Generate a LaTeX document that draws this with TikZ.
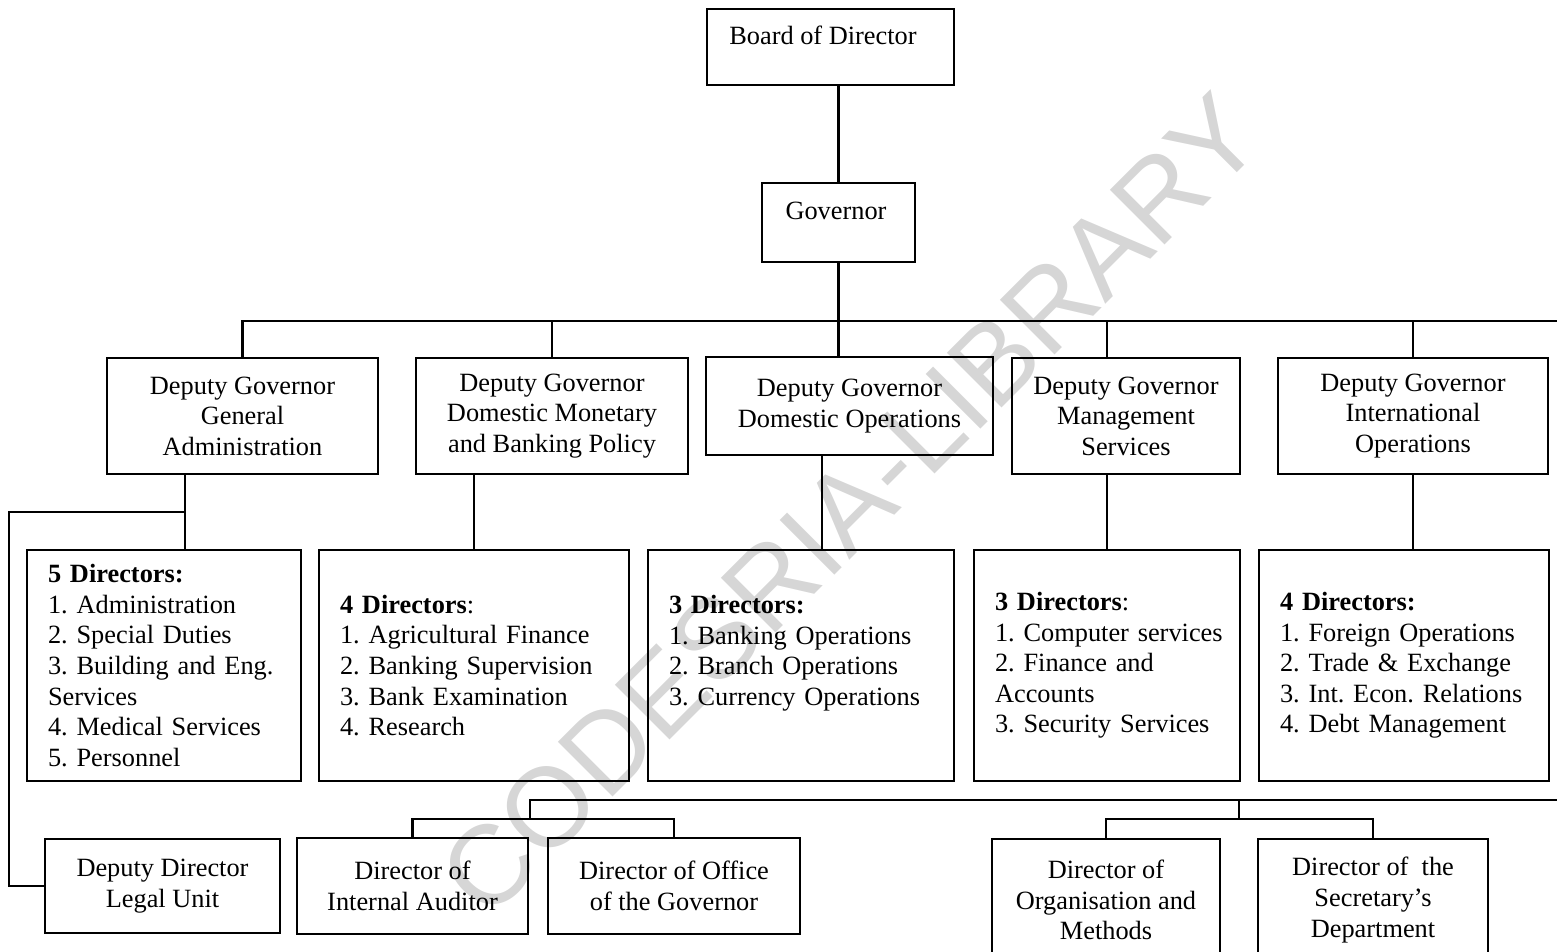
\documentclass[tikz,border=0pt]{standalone}
\usepackage{fontspec}
\setmainfont{Liberation Serif}
\newfontfamily\markfont{Liberation Sans}
\usepackage{tikz}
\frenchspacing

\begin{document}
\begin{tikzpicture}[x=0.02cm, y=-0.02cm, line width=1.2pt,
	box/.style={draw, align=center, inner sep=2pt, font=\fontsize{15}{17.4}\selectfont},
	dirbox/.style={draw, align=left, inner xsep=0.42cm, minimum height=4.62cm, font=\fontsize{15}{17.4}\selectfont}]
				\clip (0, 0) rectangle (1557, 952);
				
				%Watermark
				\node[rotate=45, text=black!16, font=\markfont\fontsize{64}{64}\selectfont] (mark) at (850, 505) {CODESRIA-LIBRARY};
				
				%Level 1
				\node[box, minimum width=4.94cm, minimum height=1.52cm] (board) at (830.5, 47) {\hspace*{-0.3cm}Board of Director\\[-4.5pt] \mbox{}};
				\node[box, minimum width=3.06cm, minimum height=1.58cm] (gov) at (838.5, 222.5) {\hspace*{-0.1cm}Governor\\[-4.5pt] \mbox{}};
				
				%Level 2
				\node[box, minimum width=5.42cm, minimum height=2.32cm] (dg1) at (242.5, 416) {Deputy Governor\\ General\\ Administration};
				\node[box, minimum width=5.44cm, minimum height=2.32cm] (dg2) at (552, 416) {Deputy Governor\\ Domestic Monetary\\ and Banking Policy};
				\node[box, minimum width=5.74cm, minimum height=1.96cm] (dg3) at (849.5, 406) {Deputy Governor\\ Domestic Operations};
				\node[box, minimum width=4.56cm, minimum height=2.32cm] (dg4) at (1126, 416) {Deputy Governor\\ Management\\ Services};
				\node[box, minimum width=5.40cm, minimum height=2.32cm] (dg5) at (1413, 416) {Deputy Governor\\ International\\ Operations};
				
				%Level 3
				\node[dirbox, text width=4.64cm] (dir1) at (164, 665.5) {\textbf{5 Directors:}\\ 1. Administration\\ 2. Special Duties\\ \mbox{3. Building and Eng.}\\ Services\\ 4. Medical Services\\ 5. Personnel};
				\node[dirbox, text width=5.36cm] (dir2) at (474, 665.5) {\textbf{4 Directors}:\\ 1. Agricultural Finance\\ 2. Banking Supervision\\ 3. Bank Examination\\ 4. Research};
				\node[dirbox, text width=5.28cm] (dir3) at (801, 665.5) {\textbf{3 Directors:}\\ 1. Banking Operations\\ 2. Branch Operations\\ 3. Currency Operations\\ \mbox{}};
				\node[dirbox, text width=4.48cm] (dir4) at (1107, 665.5) {\textbf{3 Directors}:\\ \mbox{1. Computer services}\\ 2. Finance and\\ Accounts\\ 3. Security Services};
				\node[dirbox, text width=4.96cm] (dir5) at (1404, 665.5) {\textbf{4 Directors:}\\ 1. Foreign Operations\\ 2. Trade \& Exchange\\ \mbox{3. Int. Econ. Relations}\\ 4. Debt Management};
				
				%Level 4
				\node[box, minimum width=4.70cm, minimum height=1.88cm] (legal) at (162.5, 886) {Deputy Director\\ Legal Unit};
				\node[box, minimum width=4.62cm, minimum height=1.92cm] (audit) at (412.5, 886) {Director of\\ Internal Auditor};
				\node[box, minimum width=5.04cm, minimum height=1.92cm] (office) at (674, 886) {Director of Office\\ of the Governor};
				\node[box, minimum width=4.56cm, minimum height=2.44cm] (orgmeth) at (1106, 900) {Director of\\ Organisation and\\ Methods};
				\node[box, minimum width=4.60cm, minimum height=2.44cm] (secretary) at (1373, 900) {Director of~ the\\ Secretary's\\ Department};
				
				%Lines
				\coordinate (busR) at (1557, 321);
				\coordinate (lowbusR) at (1557, 800);
				\coordinate (tapA) at (185, 512);
				\coordinate (bendA) at (9, 512);
				\coordinate (tapB) at (530, 819);
				\coordinate (tapC) at (1239, 819);
				
				\draw (gov.north |- board.south) -- (gov.north);
				\draw (gov.south) -- (gov.south |- dg3.north);
				\draw (dg1.north) |- (busR);
				\draw (dg2.north) -- (dg2.north |- busR);
				\draw ([xshift=-0.38cm]dg4.north) -- ([xshift=-0.38cm]dg4.north |- busR);
				\draw (dg5.north) -- (dg5.north |- busR);
				
				\draw (dg1.south -| tapA) -- (dir1.north -| tapA);
				\draw (tapA) -- (bendA) |- (legal.west);
				\draw (dir2.north) -- (dir2.north |- dg2.south);
				\draw ([xshift=0.42cm]dir3.north) -- ([xshift=0.42cm]dir3.north |- dg3.south);
				\draw (dir4.north) -- (dir4.north |- dg4.south);
				\draw (dg5.south) -- (dg5.south |- dir5.north);
				
				\draw (lowbusR) -| (tapB);
				\draw (audit.north) |- (tapB) -| (office.north);
				\draw (tapC) -- (tapC |- lowbusR);
				\draw (orgmeth.north) |- (tapC) -| (secretary.north);
			\end{tikzpicture}
\end{document}
